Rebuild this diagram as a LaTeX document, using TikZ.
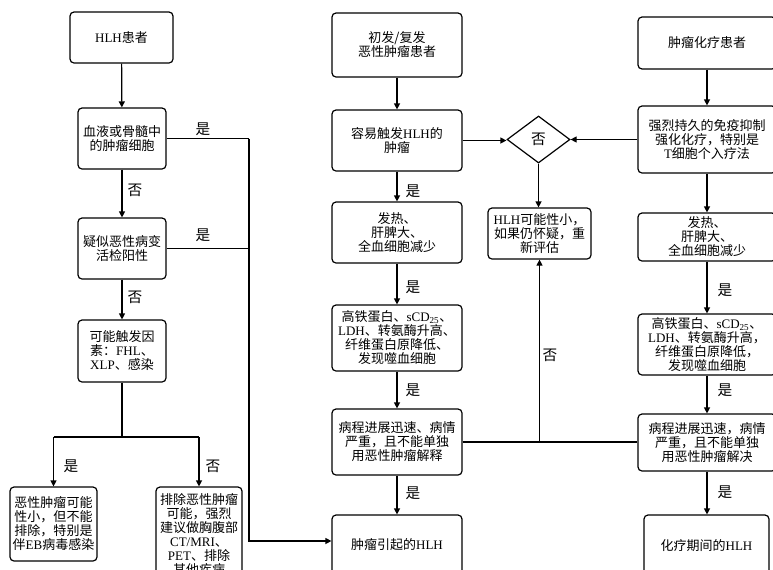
\documentclass[tikz,border=0pt]{standalone}
\usepackage{fontspec}
\setmainfont{Noto Sans CJK SC}
\newfontfamily\lat{Liberation Serif}
\usetikzlibrary{arrows.meta,shapes.geometric}
\newcommand{\fsz}{\fontsize{9.75pt}{10.5pt}\selectfont}
\newcommand{\lfs}{\fontsize{11pt}{12pt}\selectfont}
\begin{document}
\begin{tikzpicture}[x=0.75pt,y=-0.75pt,
  box/.style={draw, line width=0.9pt, rounded corners=3pt, align=center, inner sep=1pt, font=\fsz},
  sz/.style 2 args={minimum width=#1*0.75pt, minimum height=#2*0.75pt},
  arr/.style={line width=0.9pt, -{Triangle[length=4.5pt,width=4.5pt]}},
  ln/.style={line width=0.9pt},
  lab/.style={font=\lfs, inner sep=0pt}]
\clip (0,0) rectangle (773,569);
% left column
\node[box, sz={103}{51}] (n1) at (121.5,37.5) {{\lat HLH}患者};
\node[box, sz={88}{61}] (n2) at (122,138.5) {血液或骨髓中\\的肿瘤细胞};
\node[box, sz={88}{61}] (n3) at (122,248.5) {疑似恶性病变\\活检阳性};
\node[box, sz={88}{62}] (n4) at (122,351) {可能触发因\\素：{\lat FHL}、\\{\lat XLP}、感染};
\node[box, sz={87}{74}] (n5) at (53.5,524) {恶性肿瘤可能\\性小，但不能\\排除，特别是\\伴{\lat EB}病毒感染};
\node[box, sz={86}{96}] (n6) at (199,535) {排除恶性肿瘤\\可能，强烈\\建议做胸腹部\\{\lat CT/MRI}、\\{\lat PET}、排除\\其他疾病};
% middle column
\node[box, sz={130}{64}] (m1) at (397,45) {初发/复发\\恶性肿瘤患者};
\node[box, sz={130}{61}] (m2) at (397,140.5) {容易触发{\lat HLH}的\\肿瘤};
\node[box, sz={130}{61}] (m3) at (397,232.5) {发热、\\肝脾大、\\全血细胞减少};
\node[box, sz={130}{66}] (m4) at (397,338) {高铁蛋白、{\lat sCD\textsubscript{25}}、\\{\lat LDH}、转氨酶升高、\\纤维蛋白原降低、\\发现噬血细胞};
\node[box, sz={130}{66}] (m5) at (397,442) {病程进展迅速、病情\\严重，且不能单独\\用恶性肿瘤解释};
\node[box, sz={130}{60}] (m6) at (397,545) {肿瘤引起的{\lat HLH}};
% decision
\node[diamond, draw, line width=0.9pt, sz={63}{47}, inner sep=0pt, font=\lfs] (d) at (538.5,139.5) {否};
\node[box, sz={103}{51}] (h1) at (539.5,233.5) {{\lat HLH}可能性小，\\如果仍怀疑，重\\新评估};
% right column
\node[box, sz={138}{52}] (r1) at (707,43) {肿瘤化疗患者};
\node[box, sz={138}{67}] (r2) at (707,139.5) {强烈持久的免疫抑制\\强化化疗，特别是\\{\lat T}细胞个入疗法};
\node[box, sz={138}{48}] (r3) at (707,237) {发热、\\肝脾大、\\全血细胞减少};
\node[box, sz={138}{61}] (r4) at (707,344.5) {高铁蛋白、{\lat sCD\textsubscript{25}}、\\{\lat LDH}、转氨酶升高，\\纤维蛋白原降低，\\发现噬血细胞};
\node[box, sz={138}{57}] (r5) at (707,442.5) {病程进展迅速，病情\\严重，且不能单独\\用恶性肿瘤解决};
\node[box, sz={125}{62}] (r6) at (706.5,546) {化疗期间的{\lat HLH}};
% connectors left
\coordinate (c1) at (249,138.5);
\coordinate (c2) at (249,541);
\draw[ln] (n2.east) -- (c1);
\draw[arr] (c1) -- (c2) -- (c2 -| m6.west);
\draw[ln] (n3.east) -- (n3.east -| c1);
\draw[arr] (n1) -- (n2);
\draw[arr] (n2) -- (n3);
\draw[arr] (n3) -- (n4);
\coordinate (b0) at (122,437);
\draw[ln] (n4.south) -- (b0);
\draw[ln] (n5.north |- b0) -- (n6.north |- b0);
\draw[arr] (n5.north |- b0) -- (n5.north);
\draw[arr] (n6.north |- b0) -- (n6.north);
% connectors middle
\draw[arr] (m1) -- (m2);
\draw[arr] (m2) -- (m3);
\draw[arr] (m3) -- (m4);
\draw[arr] (m4) -- (m5);
\draw[arr] (m5) -- (m6);
\draw[arr] (m2.east) -- (m2.east -| d.west);
\draw[arr] (r2.west) -- (r2.west -| d.east);
\draw[arr] (d.south) -- (d.south |- h1.north);
\draw[ln] (m5.east) -- (m5.east -| r5.west);
\coordinate (j) at (539.5,442);
\draw[arr] (j) -- (h1.south);
% connectors right
\draw[arr] (r1) -- (r2);
\draw[arr] (r2) -- (r3);
\draw[arr] (r3) -- (r4);
\draw[arr] (r4) -- (r5);
\draw[arr] (r5.south) -- (r5.south |- r6.north);
% labels
\node[lab] (l1) at (203,129) {是};
\node[lab] (l2) at (135,190) {否};
\node[lab] (l3) at (203,235) {是};
\node[lab] (l4) at (135,297) {否};
\node[lab] (l5) at (71,466) {是};
\node[lab] (l6) at (213,466) {否};
\node[lab] (l7) at (413,191) {是};
\node[lab] (l8) at (413,287) {是};
\node[lab] (l9) at (413,390) {是};
\node[lab] (l10) at (413,493) {是};
\node[lab] (l11) at (550,355) {否};
\node[lab] (l12) at (725,290) {是};
\node[lab] (l13) at (725,390) {是};
\node[lab] (l14) at (725,492) {是};
\end{tikzpicture}
\end{document}
